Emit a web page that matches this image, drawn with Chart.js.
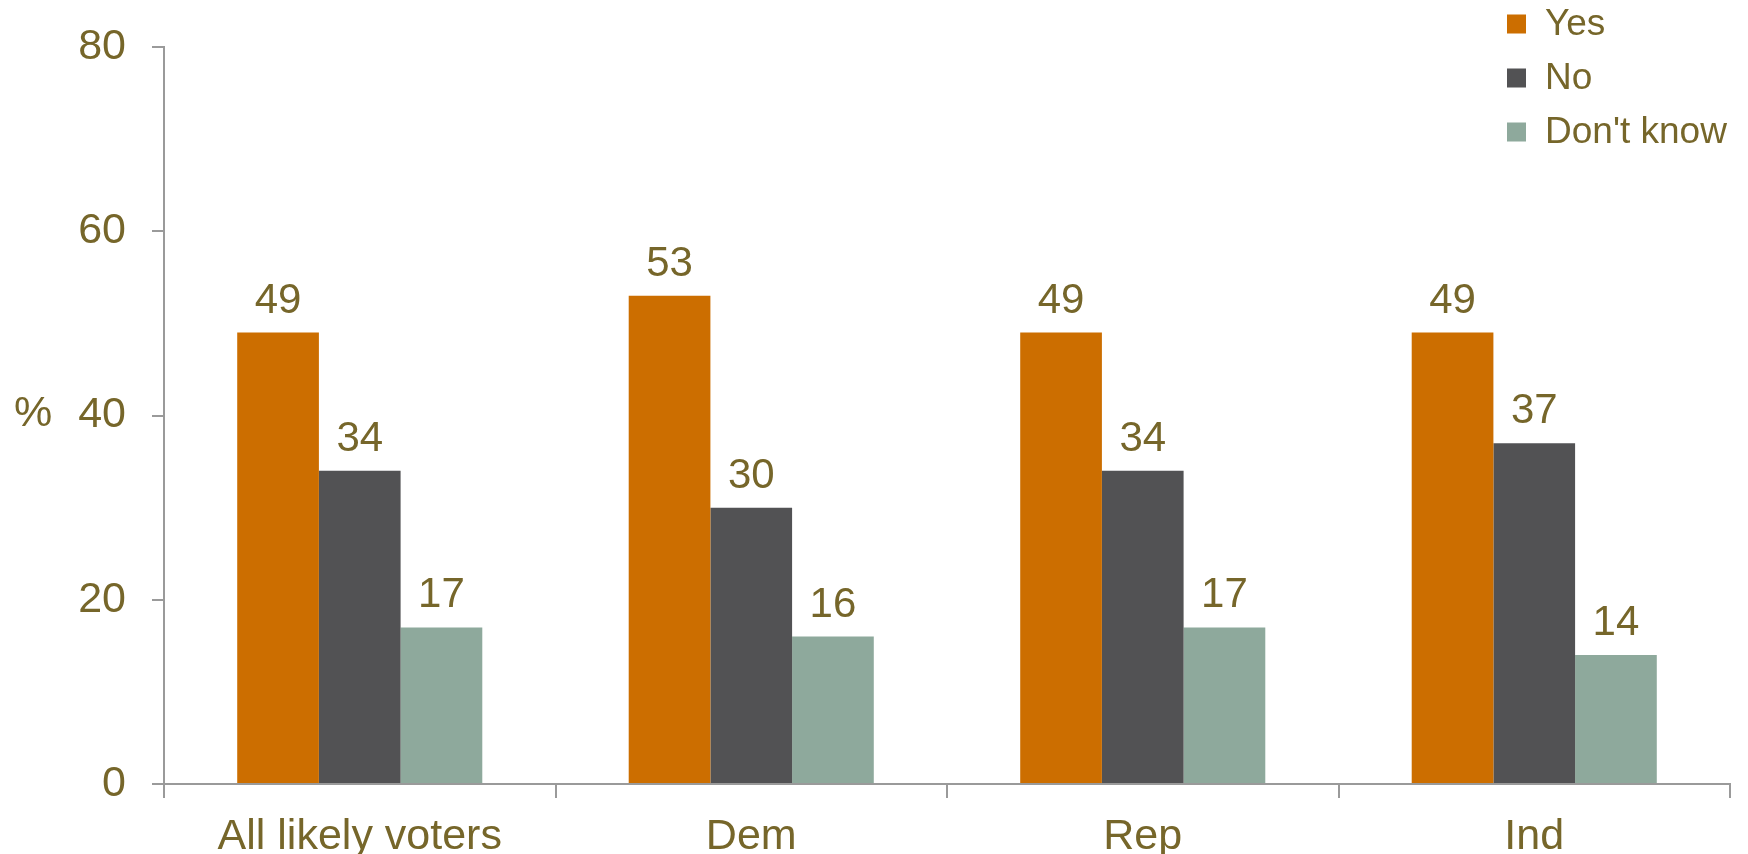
<!DOCTYPE html>
<html>
<head>
<meta charset="utf-8">
<script src="https://cdn.jsdelivr.net/npm/chart.js@4"></script>
<style>
  html, body { margin: 0; padding: 0; background: #fff; overflow: hidden; }
  #wrap { width: 1748px; height: 854px; }
</style>
</head>
<body>
<div id="wrap"><canvas id="chart"></canvas></div>
<script>
const categories = ["All likely voters", "Dem", "Rep", "Ind"];
const yesValues = [49, 53, 49, 49];
const noValues = [34, 30, 34, 37];
const dontKnowValues = [17, 16, 17, 14];
const seriesNames = ["Yes", "No", "Don't know"];
const seriesColors = ["#CC6E00", "#525254", "#8EA99C"];

const textColor = "#76662A";
const axisColor = "#9a9a9a";
const fontFamily = "'Liberation Sans', Arial, sans-serif";

// value labels above each bar
const barLabels = {
  id: "barLabels",
  afterDatasetsDraw(chart) {
    const ctx = chart.ctx;
    ctx.save();
    ctx.font = "42px " + fontFamily;
    ctx.fillStyle = textColor;
    ctx.textAlign = "center";
    ctx.textBaseline = "alphabetic";
    chart.data.datasets.forEach((ds, i) => {
      chart.getDatasetMeta(i).data.forEach((bar, j) => {
        ctx.fillText(ds.data[j], bar.x, bar.y - 20);
      });
    });
    ctx.restore();
  }
};

// legend in the top right corner + the upright "%" axis label
const sideText = {
  id: "sideText",
  afterDraw(chart) {
    const ctx = chart.ctx;
    const area = chart.chartArea;
    ctx.save();
    ctx.font = "43px " + fontFamily;
    ctx.fillStyle = textColor;
    ctx.textAlign = "center";
    ctx.textBaseline = "middle";
    ctx.fillText("%", 33, (area.top + area.bottom) / 2 - 1);

    ctx.font = "37px " + fontFamily;
    ctx.textAlign = "left";
    chart.data.datasets.forEach((ds, i) => {
      const cy = 24 + i * 54;
      ctx.fillStyle = ds.backgroundColor;
      ctx.fillRect(1507, cy - 9.5, 19, 19);
      ctx.fillStyle = textColor;
      ctx.fillText(ds.label, 1545, cy + 1);
    });
    ctx.restore();
  }
};

const chart = new Chart(document.getElementById("chart"), {
  type: "bar",
  data: {
    labels: categories,
    datasets: [
      { label: seriesNames[0], data: yesValues, backgroundColor: seriesColors[0] },
      { label: seriesNames[1], data: noValues, backgroundColor: seriesColors[1] },
      { label: seriesNames[2], data: dontKnowValues, backgroundColor: seriesColors[2] }
    ]
  },
  options: {
    responsive: true,
    maintainAspectRatio: false,
    animation: false,
    layout: { padding: { top: 47, right: 18, left: 0, bottom: 0 } },
    datasets: { bar: { categoryPercentage: 0.626, barPercentage: 1.0 } },
    plugins: {
      legend: { display: false },
      tooltip: { enabled: false }
    },
    scales: {
      x: {
        afterFit: (axis) => {
          axis.height = 70;
          axis.paddingLeft = 0;
          axis.paddingRight = 0;
        },
        grid: {
          offset: true,
          drawOnChartArea: false,
          tickLength: 14,
          color: axisColor,
          lineWidth: 2
        },
        border: { color: axisColor, width: 2 },
        ticks: {
          color: textColor,
          padding: 13,
          font: { family: fontFamily, size: 43 }
        }
      },
      y: {
        min: 0,
        max: 80,
        afterFit: (axis) => {
          axis.width = 164;
          axis.paddingTop = 0;
          axis.paddingBottom = 0;
        },
        grid: {
          drawOnChartArea: false,
          tickLength: 12,
          color: axisColor,
          lineWidth: 2
        },
        border: { color: axisColor, width: 2 },
        ticks: {
          stepSize: 20,
          color: textColor,
          padding: 26,
          font: { family: fontFamily, size: 43 }
        }
      }
    }
  },
  plugins: [barLabels, sideText]
});
</script>
</body>
</html>
